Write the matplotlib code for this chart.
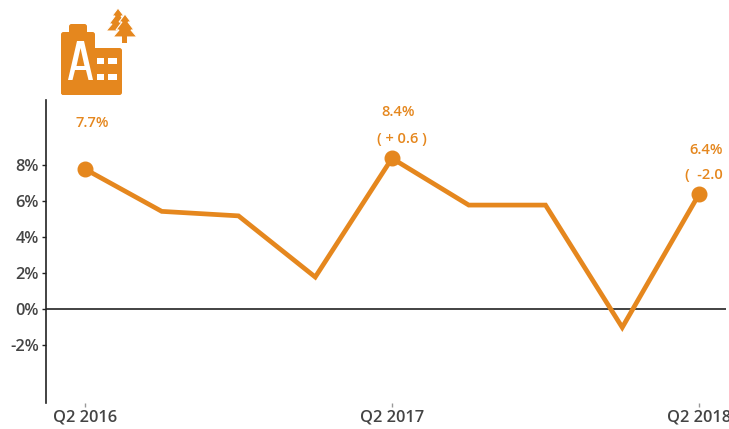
import matplotlib.pyplot as plt
import matplotlib.patches as mpatches
import numpy as np

plt.rcParams['font.family'] = ['Open Sans', 'DejaVu Sans']

quarters = ['Q2 2016', 'Q3 2016', 'Q4 2016', 'Q1 2017', 'Q2 2017', 'Q3 2017', 'Q4 2017', 'Q1 2018', 'Q2 2018']
growth = [7.8, 5.45, 5.2, 1.8, 8.4, 5.8, 5.8, -1.0, 6.4]
y_ticks = [-2, 0, 2, 4, 6, 8]
y_labels = ['-2%', '0%', '2%', '4%', '6%', '8%']
x_labels = ['Q2 2016', 'Q2 2017', 'Q2 2018']
x_label_pos = [0, 4, 8]
marked = [0, 4, 8]

orange = '#E5871E'
grey = '#444444'
W, H = 729, 429

fig = plt.figure(figsize=(W / 100, H / 100), dpi=100)
ax = fig.add_axes([46 / W, 1 - 403 / H, (726 - 46) / W, (403 - 100) / H])

x = np.arange(len(growth))
ax.plot(x, growth, color=orange, lw=3.4, solid_joinstyle='miter', clip_on=False)
ax.plot(marked, [growth[i] for i in marked], 'o', color=orange, ms=10.5, clip_on=False, zorder=3)

ax.axhline(0, color='#222222', lw=1.2, zorder=1)
ax.set_xlim(-39 / 76.75, (726 - 85) / 76.75)
ax.set_ylim(-5.2, 11.64)

for s in ['top', 'right', 'bottom']:
    ax.spines[s].set_visible(False)
ax.spines['left'].set_linewidth(1.2)
ax.spines['left'].set_color('#222222')

ax.set_yticks(y_ticks)
ax.set_yticklabels(y_labels, fontsize=11.8, color=grey, fontweight='semibold')
ax.tick_params(axis='y', length=3, width=1, pad=2, color='#222222')
ax.set_xticks(x_label_pos)
ax.set_xticklabels(x_labels, fontsize=11.8, color=grey, fontweight='semibold')
ax.tick_params(axis='x', length=3, width=1, pad=2, color='#999999')
for t in ax.get_xticklabels():
    t.set_clip_on(False)

# value labels, the last one runs off the picture like the original
label_style = dict(textcoords='offset points', va='center', color=orange, fontsize=10.5, fontweight='semibold')
ax.annotate('7.7%', (0, growth[0]), xytext=(5, 33), ha='center', **label_style)
ax.annotate('8.4%', (4, 8.4), xytext=(4.5, 33), ha='center', **label_style)
ax.annotate('( + 0.6 )', (4, 8.4), xytext=(7, 14), ha='center', **label_style)
ax.annotate('6.4%', (8, 6.4), xytext=(5, 32), ha='center', **label_style)
ax.annotate('(  -2.0  )', (8, 6.4), xytext=(-10, 14), ha='left', **label_style)

# icon drawn in pixel coordinates
icon = fig.add_axes([0, 0, 1, 1], zorder=5)
icon.set_xlim(0, W)
icon.set_ylim(H, 0)
icon.axis('off')
icon.patch.set_alpha(0)

icon.add_patch(mpatches.FancyBboxPatch((61, 32), 34, 63, boxstyle='round,pad=0,rounding_size=2.5', fc=orange, ec='none'))
icon.add_patch(mpatches.FancyBboxPatch((69, 24), 18, 12, boxstyle='round,pad=0,rounding_size=2.5', fc=orange, ec='none'))
icon.add_patch(mpatches.FancyBboxPatch((61, 48), 61, 47, boxstyle='round,pad=0,rounding_size=2.5', fc=orange, ec='none'))

# letter A and windows
icon.add_patch(mpatches.Polygon([(68, 80), (77, 41), (84, 41), (93, 80), (88.5, 80), (86, 70), (75, 70), (72.5, 80)], fc='white', ec='none'))
icon.add_patch(mpatches.Polygon([(76.5, 66), (80.5, 48), (84.5, 66)], fc=orange, ec='none'))
for wx, ww in [(97, 7), (108, 9)]:
    for wy in [58, 74]:
        icon.add_patch(mpatches.Rectangle((wx, wy), ww, 6, fc='white', ec='none'))

# two trees, the rear one first
for dx, dy in [(-7, -6), (0, 0)]:
    icon.add_patch(mpatches.Polygon([(125 + dx, 14 + dy), (131 + dx, 22 + dy), (128 + dx, 22 + dy),
                                     (134 + dx, 30 + dy), (131 + dx, 30 + dy), (137 + dx, 37 + dy),
                                     (113 + dx, 37 + dy), (119 + dx, 30 + dy), (116 + dx, 30 + dy),
                                     (122 + dx, 22 + dy), (119 + dx, 22 + dy)],
                                    fc=orange, ec='white', lw=0.8))
icon.add_patch(mpatches.Rectangle((122, 36), 5, 7, fc=orange, ec='none'))

fig.savefig('out.png', dpi=100)
